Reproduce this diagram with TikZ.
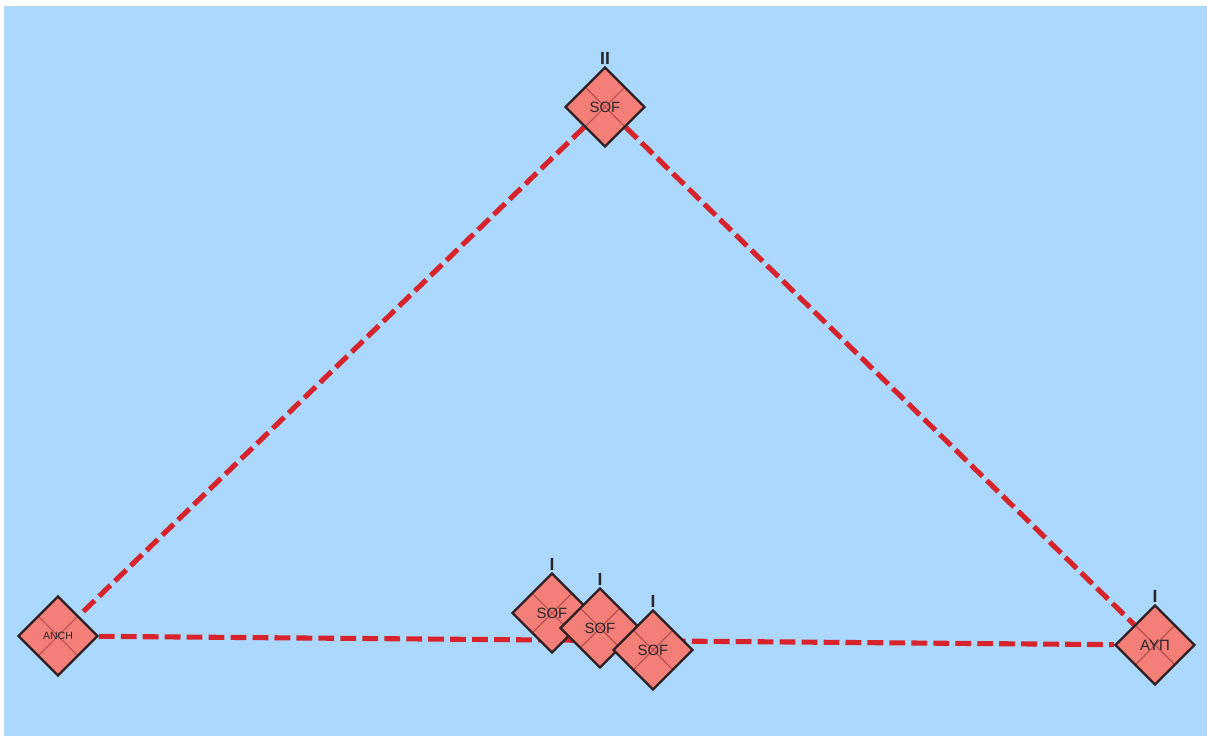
\documentclass[tikz,border=0pt]{standalone}
\usepackage{fontspec}
\setmainfont{Liberation Sans}
\usepackage{xcolor}
\usepackage{tikz}
\usetikzlibrary{shapes.geometric,calc}
\pgfdeclarelayer{bg}\pgfsetlayers{bg,main}
\definecolor{sky}{HTML}{ABD8FC}
\definecolor{salmon}{HTML}{F47E78}
\definecolor{rim}{HTML}{2E2022}
\definecolor{redline}{HTML}{D7232B}
\definecolor{crossred}{HTML}{B24A4A}
\tikzset{blk/.style={diamond,aspect=1,minimum width=1.6cm,minimum height=1.6cm,inner sep=0pt,fill=salmon,draw=rim,line width=1.3pt,text=black!85,font=\fontsize{8.5}{8.5}\selectfont,
    path picture={\draw[cross] ($(path picture bounding box.north)!0.5!(path picture bounding box.west)$) -- ($(path picture bounding box.south)!0.5!(path picture bounding box.east)$);
      \draw[cross] ($(path picture bounding box.north)!0.5!(path picture bounding box.east)$) -- ($(path picture bounding box.south)!0.5!(path picture bounding box.west)$);}},
  cross/.style={crossred,line width=0.6pt},
  lbl/.style={inner sep=0.5pt,text=black!85,font=\bfseries\fontsize{10}{10}\selectfont},
  link/.style={redline,line width=2.9pt,dash pattern=on 9pt off 3.5pt}}

\begin{document}
\begin{tikzpicture}[x=0.02cm,y=-0.02cm]
\useasboundingbox (0,0) rectangle (1207,736);
\node[blk,label={[lbl]above:II}] (sofii) at (605,107) {SOF};
\node[blk,font=\fontsize{6}{6}\selectfont] (anch) at (58,636) {ANCH};
\node[blk,label={[lbl]above:I}] (sofa) at (552,613) {SOF};
\node[blk,label={[lbl]above:I}] (sofb) at (600,628) {SOF};
\node[blk,label={[lbl]above:I}] (sofc) at (653,650) {SOF};
\node[blk,label={[lbl]above:I}] (ayp) at (1155,645) {AYП};
\begin{pgfonlayer}{bg}
\fill[sky] (4,6) rectangle (1207,736);
\draw[link] (sofii) -- (anch); \draw[link] (sofii) -- (ayp); \draw[link] (anch) -- (ayp);
\end{pgfonlayer}
\end{tikzpicture}
\end{document}
